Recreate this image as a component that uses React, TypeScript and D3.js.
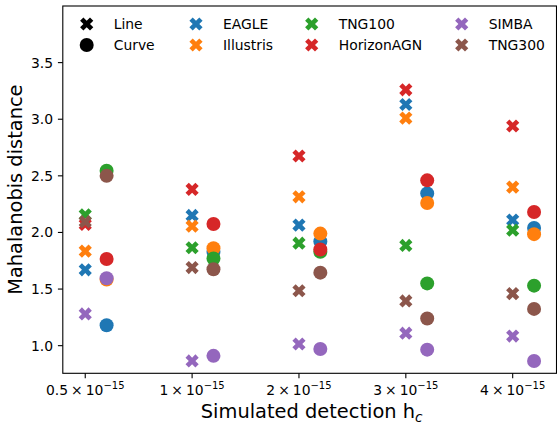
import React from 'react';
import * as d3 from 'd3';

// detection amplitudes (x categories, in units of 1e-15)
const hcLabels = ['0.5', '1', '2', '3', '4'];
const simNames = ['EAGLE', 'Illustris', 'TNG100', 'HorizonAGN', 'SIMBA', 'TNG300'];
const simColors = ['#1f77b4', '#ff7f0e', '#2ca02c', '#d62728', '#9467bd', '#8c564b'];

// "Line" fits (X markers)
const lineEAGLE = [1.67, 2.15, 2.065, 3.13, 2.11];
const lineIllustris = [1.835, 2.055, 2.315, 3.01, 2.4];
const lineTNG100 = [2.155, 1.865, 1.905, 1.885, 2.02];
const lineHorizonAGN = [2.07, 2.38, 2.675, 3.26, 2.94];
const lineSIMBA = [1.28, 0.865, 1.015, 1.11, 1.085];
const lineTNG300 = [2.095, 1.69, 1.485, 1.395, 1.46];

// "Curve" fits (circles)
const curveEAGLE = [1.18, 1.83, 1.92, 2.345, 2.04];
const curveIllustris = [1.585, 1.86, 1.99, 2.26, 1.985];
const curveTNG100 = [2.545, 1.77, 1.83, 1.55, 1.53];
const curveHorizonAGN = [1.765, 2.075, 1.85, 2.46, 2.18];
const curveSIMBA = [1.595, 0.91, 0.97, 0.965, 0.865];
const curveTNG300 = [2.5, 1.675, 1.645, 1.24, 1.325];

const yTicks = [1.0, 1.5, 2.0, 2.5, 3.0, 3.5];

const lineSeries = [lineEAGLE, lineIllustris, lineTNG100, lineHorizonAGN, lineSIMBA, lineTNG300];
const curveSeries = [curveEAGLE, curveIllustris, curveTNG100, curveHorizonAGN, curveSIMBA, curveTNG300];

const W = 557;
const H = 426;
const plot = { left: 62.8, right: 556.5, top: 6, bottom: 373.3 };
const curveOffset = 0.2;
const font = 'DejaVu Sans, sans-serif';

// filled "X" marker like matplotlib's
const xMarkerPath = (s: number) => {
  const pts = [
    [-1, -3], [-1, -1], [-3, -1], [-3, 1], [-1, 1], [-1, 3],
    [1, 3], [1, 1], [3, 1], [3, -1], [1, -1], [1, -3],
  ].map(([a, b]) => {
    const x = (a / 6) * s;
    const y = (b / 6) * s;
    const c = Math.SQRT1_2;
    return [c * (x - y), c * (x + y)];
  });
  return 'M' + pts.map((p) => p.join(',')).join('L') + 'Z';
};

const XMark = ({ x, y, color, size = 14 }: { x: number; y: number; color: string; size?: number }) => (
  <path d={xMarkerPath(size)} transform={`translate(${x},${y})`} fill={color} />
);

const App: React.FC = () => {
  const x = d3.scaleLinear().domain([-0.21, 4.41]).range([plot.left, plot.right]);
  const y = d3.scaleLinear().domain([0.756, 4.0]).range([plot.bottom, plot.top]);

  const legendRows = [
    { label: 'Line', color: '#000', kind: 'x', col: 0, row: 0 },
    { label: 'Curve', color: '#000', kind: 'o', col: 0, row: 1 },
    ...simNames.map((n, i) => ({ label: n, color: simColors[i], kind: 'x', col: 1 + Math.floor(i / 2), row: i % 2 })),
  ];
  const legendColX = [86.7, 196, 311.7, 461.7];
  const legendRowY = [24, 45];

  return (
    <svg width={W} height={H} style={{ position: 'absolute', left: 0, top: 0, background: '#fff' }} fontFamily={font}>
      {simNames.map((name, si) => (
        <g key={name}>
          {lineSeries[si].map((v, i) => (
            <XMark key={'l' + i} x={x(i)} y={y(v)} color={simColors[si]} />
          ))}
          {curveSeries[si].map((v, i) => (
            <circle key={'c' + i} cx={x(i + curveOffset)} cy={y(v)} r={7} fill={simColors[si]} />
          ))}
        </g>
      ))}

      {/* frame */}
      <rect x={plot.left} y={plot.top} width={plot.right - plot.left} height={plot.bottom - plot.top}
        fill="none" stroke="#000" strokeWidth={1.1} />

      {/* y axis */}
      {yTicks.map((t) => (
        <g key={t}>
          <line x1={plot.left - 4.9} x2={plot.left} y1={y(t)} y2={y(t)} stroke="#000" strokeWidth={1.1} />
          <text x={plot.left - 9.8} y={y(t)} dy="0.36em" textAnchor="end" fontSize={13.9}>{t.toFixed(1)}</text>
        </g>
      ))}
      <text transform={`translate(22,${(plot.top + plot.bottom) / 2}) rotate(-90)`} textAnchor="middle" fontSize={19.4}>
        Mahalanobis distance
      </text>

      {/* x axis */}
      {hcLabels.map((lab, i) => (
        <g key={lab}>
          <line x1={x(i)} x2={x(i)} y1={plot.bottom} y2={plot.bottom + 4.9} stroke="#000" strokeWidth={1.1} />
          <text x={x(i)} y={395} textAnchor="middle" fontSize={13.9}>
            {lab}
            <tspan dx={3}>×</tspan>
            <tspan dx={3}>10</tspan>
            <tspan dy={-6.5} fontSize={10}>−15</tspan>
          </text>
        </g>
      ))}
      <text x={(plot.left + plot.right) / 2 + 2} y={418} textAnchor="middle" fontSize={19.4}>
        Simulated detection h<tspan fontSize={13.6} dy={4} fontStyle="italic">c</tspan>
      </text>

      {/* legend */}
      {legendRows.map((d) => {
        const mx = legendColX[d.col];
        const my = legendRowY[d.row];
        return (
          <g key={d.label}>
            {d.kind === 'x' ? <XMark x={mx} y={my} color={d.color} /> : <circle cx={mx} cy={my} r={7} fill={d.color} />}
            <text x={mx + 27} y={my} dy="0.36em" fontSize={13.9}>{d.label}</text>
          </g>
        );
      })}
    </svg>
  );
};

export default App;
